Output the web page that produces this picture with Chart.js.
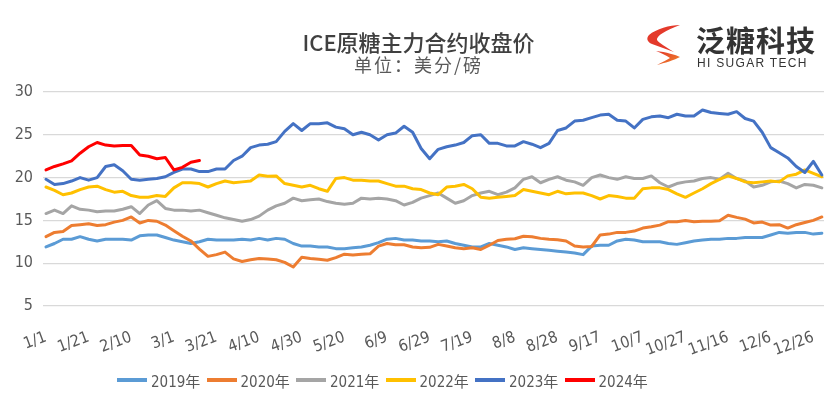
<!DOCTYPE html>
<html>
<head>
<meta charset="utf-8">
<script src="https://cdn.jsdelivr.net/npm/chart.js@4.4.1/dist/chart.umd.min.js"></script>
<style>
  body { margin: 0; background: #fff; }
  #wrap { position: relative; width: 837px; height: 403px; overflow: hidden; }
  #chart { position: absolute; left: 0; top: 0; }
  #title { position: absolute; left: 0; width: 837px; top: 28px; text-align: center;
           font: 500 22px "Noto Sans CJK SC", sans-serif; color: #404040; line-height: 26px; }
  #subtitle { position: absolute; left: 0; width: 837px; top: 53px; text-align: center;
              font: 18px "Noto Sans CJK SC", sans-serif; color: #595959; line-height: 22px; letter-spacing: 2px; }
  #logo { position: absolute; left: 644px; top: 22px; width: 180px; height: 48px; }
  #logo svg { position: absolute; left: 0; top: 0; }
  #logo .cn { position: absolute; left: 52px; top: 0px; font: 700 29px "Noto Sans CJK SC", sans-serif;
              color: #333; line-height: 34px; letter-spacing: 1px; }
  #logo .en { position: absolute; left: 53px; top: 35px; font: 12px "Liberation Sans", Arial, sans-serif;
              color: #333; line-height: 13px; letter-spacing: 1.3px; }
  #legend { position: absolute; left: 117px; top: 369px; height: 22px; display: flex; }
  #legend .item { width: 89.5px; display: flex; align-items: center; }
  #legend .swatch { width: 30px; height: 4px; margin-right: 4px; }
  #legend .txt { font: 15px "Liberation Sans Narrow", "DejaVu Sans Condensed", "Noto Sans CJK SC", sans-serif; color: #595959; }
</style>
</head>
<body>
<div id="wrap">
  <canvas id="chart" width="837" height="403"></canvas>
  <div id="title">ICE原糖主力合约收盘价</div>
  <div id="subtitle">单位：美分/磅</div>
  <div id="logo">
    <svg width="42" height="44" viewBox="0 0 42 44">
      <defs>
        <linearGradient id="g1" x1="0" y1="0" x2="1" y2="1">
          <stop offset="0" stop-color="#e2322a"/>
          <stop offset="1" stop-color="#f08a2a"/>
        </linearGradient>
      </defs>
      <path d="M36 3 C26 3 12 7 5 13 C2 16 3 20 8 22 L30 30 C22 25 15 21 13 18 C12 14 22 8 36 3 Z" fill="#e43a2b"/>
      <path d="M12 29 C22 30 32 33 36 35 C31 38 20 41 13 43 C18 40 23 38 26 36 C22 33 17 31 12 29 Z" fill="url(#g1)"/>
    </svg>
    <div class="cn">泛糖科技</div>
    <div class="en">HI SUGAR TECH</div>
  </div>
  <div id="legend"></div>
</div>
<script>
// sample days (day of year, every 4 days)
const sampleDays = Array.from({ length: 92 }, (_, i) => i * 4);

const tickDays = [0, 20, 40, 60, 80, 100, 120, 140, 160, 180, 200, 220, 240, 260, 280, 300, 320, 340, 360];
const tickLabels = ["1/1", "1/21", "2/10", "3/1", "3/21", "4/10", "4/30", "5/20", "6/9", "6/29",
                    "7/19", "8/8", "8/28", "9/17", "10/7", "10/27", "11/16", "12/6", "12/26"];

const seriesNames = ["2019年", "2020年", "2021年", "2022年", "2023年", "2024年"];
const seriesColors = ["#5b9bd5", "#ed7d31", "#a5a5a5", "#ffc000", "#4472c4", "#ff0000"];

const s2019 = [
  11.9, 12.3, 12.8, 12.8, 13.1, 12.8, 12.6, 12.8, 12.8, 12.8, 12.7, 13.2, 13.3, 13.3, 13.0, 12.7, 12.5, 12.3, 12.5, 12.8, 12.7, 12.7, 12.7,
  12.8, 12.7, 12.9, 12.7, 12.9, 12.8, 12.3, 12.0, 12.0, 11.9, 11.9, 11.7, 11.7, 11.8, 11.9, 12.1, 12.4, 12.8, 12.9, 12.7, 12.7, 12.6, 12.6,
  12.5, 12.6, 12.3, 12.1, 11.9, 11.9, 12.3, 12.1, 11.9, 11.6, 11.8, 11.7, 11.6, 11.5, 11.4, 11.3, 11.2, 11.0, 12.0, 12.1, 12.1, 12.6, 12.8,
  12.7, 12.5, 12.5, 12.5, 12.3, 12.2, 12.4, 12.6, 12.7, 12.8, 12.8, 12.9, 12.9, 13.0, 13.0, 13.0, 13.3, 13.6, 13.5, 13.6, 13.6, 13.4, 13.5
];
const s2020 = [
  13.1, 13.6, 13.7, 14.4, 14.5, 14.6, 14.4, 14.5, 14.8, 15.0, 15.4, 14.7, 15.0, 14.9, 14.45, 13.8, 13.15, 12.6, 11.65, 10.8, 11.0, 11.3, 10.5,
  10.2, 10.4, 10.55, 10.5, 10.4, 10.1, 9.55, 10.7, 10.55, 10.45, 10.35, 10.65, 11.05, 10.95, 11.05, 11.1, 12.0, 12.3, 12.15, 12.15, 11.9, 11.8, 11.85,
  12.2, 12.0, 11.8, 11.7, 11.8, 11.6, 12.1, 12.65, 12.8, 12.85, 13.15, 13.1, 12.9, 12.8, 12.75, 12.6, 12.0, 11.9, 11.95, 13.3, 13.4, 13.6, 13.6,
  13.75, 14.1, 14.25, 14.45, 14.85, 14.85, 15.0, 14.85, 14.9, 14.9, 14.95, 15.6, 15.35, 15.15, 14.7, 14.8, 14.45, 14.5, 14.1, 14.5, 14.75, 15.0, 15.4
];
const s2021 = [
  15.8, 16.2, 15.8, 16.7, 16.3, 16.2, 16.0, 16.1, 16.1, 16.3, 16.6, 15.8, 16.8, 17.3, 16.4, 16.2, 16.2, 16.1, 16.2, 15.9, 15.6, 15.3, 15.1,
  14.9, 15.1, 15.5, 16.2, 16.7, 17.0, 17.6, 17.3, 17.4, 17.5, 17.2, 17.0, 16.9, 17.0, 17.6, 17.5, 17.6, 17.5, 17.3, 16.8, 17.1, 17.6, 17.9,
  18.2, 17.6, 17.0, 17.3, 17.9, 18.2, 18.4, 18.0, 18.3, 18.8, 19.8, 20.1, 19.4, 19.8, 20.1, 19.7, 19.5, 19.1, 20.0, 20.3, 20.0, 19.8, 20.1,
  19.9, 19.9, 20.2, 19.4, 18.9, 19.3, 19.5, 19.6, 19.9, 20.0, 19.8, 20.5, 19.9, 19.6, 18.9, 19.1, 19.5, 19.6, 19.3, 18.8, 19.2, 19.1, 18.8
];
const s2022 = [
  18.9, 18.5, 18.0, 18.2, 18.6, 18.9, 19.0, 18.6, 18.3, 18.4, 17.9, 17.7, 17.7, 17.9, 17.8, 18.8, 19.4, 19.4, 19.3, 18.9, 19.3, 19.6, 19.4,
  19.5, 19.6, 20.3, 20.15, 20.2, 19.3, 19.1, 18.9, 19.1, 18.7, 18.4, 19.9, 20.0, 19.7, 19.7, 19.6, 19.6, 19.3, 19.0, 19.0, 18.7, 18.6, 18.2,
  18.0, 18.9, 19.0, 19.2, 18.7, 17.7, 17.6, 17.7, 17.8, 17.9, 18.6, 18.4, 18.2, 18.0, 18.4, 18.1, 18.2, 18.2, 17.9, 17.5, 17.9, 17.8, 17.6,
  17.6, 18.7, 18.8, 18.8, 18.6, 18.1, 17.7, 18.2, 18.7, 19.3, 19.8, 20.2, 19.9, 19.5, 19.4, 19.5, 19.6, 19.5, 20.2, 20.4, 20.9, 20.5, 20.1
];
const s2023 = [
  19.8, 19.2, 19.3, 19.6, 20.0, 19.7, 20.0, 21.3, 21.5, 20.8, 19.8, 19.7, 19.8, 19.9, 20.1, 20.6, 21.0, 21.0, 20.7, 20.7, 21.0, 21.0, 22.0,
  22.5, 23.5, 23.8, 23.9, 24.2, 25.4, 26.3, 25.5, 26.3, 26.3, 26.4, 25.9, 25.7, 25.0, 25.3, 25.0, 24.4, 25.0, 25.2, 26.0, 25.3, 23.4, 22.2,
  23.3, 23.6, 23.8, 24.1, 24.9, 25.0, 24.0, 24.0, 23.7, 23.7, 24.2, 23.9, 23.5, 24.0, 25.5, 25.8, 26.6, 26.7, 27.0, 27.3, 27.4, 26.7, 26.6,
  25.8, 26.8, 27.1, 27.2, 27.0, 27.4, 27.2, 27.2, 27.9, 27.6, 27.5, 27.4, 27.7, 26.9, 26.6, 25.3, 23.5, 22.9, 22.3, 21.3, 20.6, 21.9, 20.3
];
const s2024 = [
  20.9, 21.3, 21.6, 21.95, 22.85, 23.6, 24.1, 23.8, 23.7, 23.75, 23.75, 22.65, 22.5, 22.2, 22.35, 20.9, 21.2, 21.8, 22.0
];

const allSeries = [s2019, s2020, s2021, s2022, s2023, s2024];

const datasets = allSeries.map((vals, i) => ({
  label: seriesNames[i],
  data: vals.map((v, j) => ({ x: sampleDays[j], y: v })),
  borderColor: seriesColors[i],
  backgroundColor: seriesColors[i],
  borderWidth: 3,
  pointRadius: 0,
  borderJoinStyle: "round",
  borderCapStyle: "round",
  order: allSeries.length - i
}));

const tickFont = { family: "'Liberation Sans Narrow', 'DejaVu Sans Condensed', sans-serif", size: 16 };

new Chart(document.getElementById("chart"), {
  type: "line",
  data: { datasets },
  options: {
    responsive: false,
    animation: false,
    devicePixelRatio: 1,
    layout: { padding: { top: 92, right: 13, left: 0, bottom: 0 } },
    plugins: { legend: { display: false }, tooltip: { enabled: false } },
    scales: {
      x: {
        type: "linear",
        min: -1.4,
        max: 365,
        grid: { display: false },
        border: { display: false },
        afterBuildTicks: s => { s.ticks = tickDays.map(v => ({ value: v })); },
        afterFit: s => { s.height = 97; },
        ticks: {
          autoSkip: false,
          minRotation: 20,
          maxRotation: 20,
          padding: 14,
          color: "#595959",
          font: tickFont,
          callback: (v, i) => tickLabels[i]
        }
      },
      y: {
        min: 5,
        max: 30,
        grid: { color: "#d9d9d9", lineWidth: 1.2, drawTicks: false },
        border: { display: false },
        afterFit: s => { s.width = 43; },
        ticks: { stepSize: 5, padding: 10, color: "#595959", font: tickFont }
      }
    }
  }
});

// legend
const legend = document.getElementById("legend");
seriesNames.forEach((name, i) => {
  const item = document.createElement("div");
  item.className = "item";
  item.innerHTML = `<span class="swatch" style="background:${seriesColors[i]}"></span><span class="txt">${name}</span>`;
  legend.appendChild(item);
});
</script>
</body>
</html>
